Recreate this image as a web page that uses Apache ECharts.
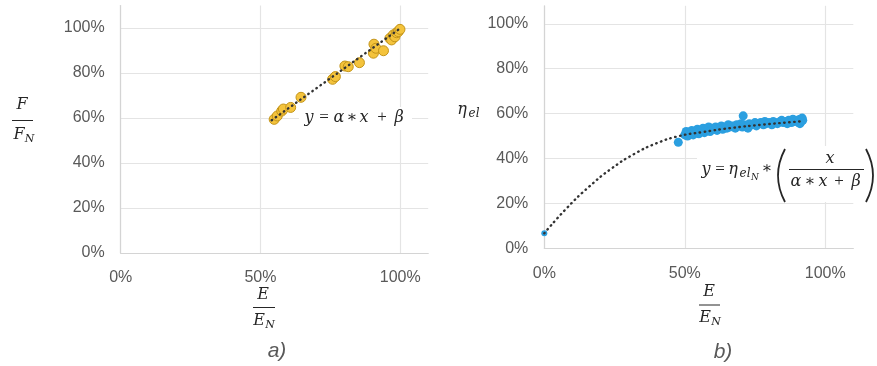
<!DOCTYPE html>
<html>
<head>
<meta charset="utf-8">
<script src="https://cdn.jsdelivr.net/npm/echarts@6/dist/echarts.min.js"></script>
<style>
  html, body { margin: 0; padding: 0; background: #ffffff; }
  #chart { width: 877px; height: 366px; }
</style>
</head>
<body>
<div id="chart"></div>
<script>
// a) force ratio F/FN against energy ratio E/EN
const forceE = [0.549, 0.560, 0.576, 0.582, 0.608, 0.645, 0.758, 0.768, 0.802, 0.814, 0.854,
                0.904, 0.906, 0.913, 0.940, 0.963, 0.969, 0.975, 0.981, 0.987, 0.993, 0.999];
const forceF = [0.594, 0.609, 0.631, 0.640, 0.647, 0.692, 0.772, 0.784, 0.831, 0.828, 0.846,
                0.888, 0.928, 0.910, 0.899, 0.954, 0.947, 0.969, 0.961, 0.979, 0.984, 0.994];
// linear trend y = α·x + β, end points
const forceTrendE = [0.54, 1.005];
const forceTrendF = [0.59, 1.003];

// b) electrical efficiency η_el against energy ratio E/EN
const effE = [0.000, 0.477, 0.500, 0.505, 0.510, 0.515, 0.520, 0.525, 0.530, 0.535, 0.540, 0.545,
              0.550, 0.555, 0.560, 0.565, 0.570, 0.575, 0.580, 0.585, 0.590, 0.595, 0.600, 0.610,
              0.615, 0.620, 0.630, 0.635, 0.640, 0.650, 0.655, 0.660, 0.670, 0.680, 0.685, 0.690,
              0.700, 0.705, 0.708, 0.710, 0.720, 0.725, 0.730, 0.740, 0.750, 0.755, 0.760, 0.770,
              0.780, 0.785, 0.790, 0.800, 0.810, 0.815, 0.820, 0.830, 0.840, 0.845, 0.850, 0.860,
              0.865, 0.870, 0.880, 0.885, 0.890, 0.900, 0.905, 0.910, 0.910, 0.915, 0.918, 0.920];
const effEta = [0.067, 0.472, 0.505, 0.520, 0.500, 0.515, 0.510, 0.525, 0.505, 0.520, 0.515, 0.530,
                0.510, 0.525, 0.520, 0.535, 0.515, 0.530, 0.525, 0.540, 0.520, 0.535, 0.530, 0.540,
                0.525, 0.535, 0.545, 0.530, 0.540, 0.535, 0.550, 0.540, 0.545, 0.535, 0.550, 0.545,
                0.555, 0.540, 0.590, 0.550, 0.545, 0.535, 0.555, 0.550, 0.560, 0.545, 0.555, 0.560,
                0.550, 0.565, 0.555, 0.560, 0.550, 0.565, 0.560, 0.555, 0.565, 0.570, 0.560, 0.565,
                0.555, 0.570, 0.560, 0.575, 0.565, 0.570, 0.560, 0.575, 0.555, 0.565, 0.580, 0.570];
// efficiency trend curve y = η_elN·x/(α·x+β), sampled
const effTrendE   = [0.000, 0.080, 0.160, 0.240, 0.320, 0.400, 0.480, 0.560, 0.660, 0.780, 0.920];
const effTrendEta = [0.067, 0.179, 0.275, 0.356, 0.420, 0.468, 0.500, 0.517, 0.535, 0.551, 0.566];

const zip = (a, b) => a.map((v, i) => [v, b[i]]);
const pct = v => Math.round(v * 100) + '%';

const SANS = '"Liberation Sans", Arial, sans-serif';
const SERIF = '"DejaVu Serif", serif';
const OPS = '"Liberation Serif", serif';
const LABEL_GREY = '#595959';
const INK = '#262626';

function axisX(gridIndex, max) {
  return {
    type: 'value', gridIndex, min: 0, max, interval: 0.5,
    axisLine: { show: true, lineStyle: { color: '#d4d4d4', width: 1.2 } },
    axisTick: { show: false },
    splitLine: { show: true, showMaxLine: false, lineStyle: { color: '#e4e4e4', width: 1.2 } },
    axisLabel: { showMaxLabel: false, formatter: pct, color: LABEL_GREY, fontFamily: SANS, fontSize: 16, margin: 17 }
  };
}
function axisY(gridIndex, max) {
  return {
    type: 'value', gridIndex, min: 0, max, interval: 0.2,
    axisLine: { show: true, onZero: false, lineStyle: { color: '#d4d4d4', width: 1.2 } },
    axisTick: { show: false },
    splitLine: { show: true, showMaxLine: false, lineStyle: { color: '#e4e4e4', width: 1.2 } },
    axisLabel: { showMaxLabel: false, formatter: pct, color: LABEL_GREY, fontFamily: SANS, fontSize: 16, margin: 16 }
  };
}

// text helper for the math annotations
function t(x, y, s, opt) {
  opt = opt || {};
  return {
    type: 'text', x, y, z: 100, silent: true,
    style: {
      text: s,
      fontFamily: opt.family || SERIF,
      fontSize: opt.size || 16,
      fontStyle: opt.upright ? 'normal' : 'italic',
      fill: opt.color || INK,
      align: opt.align || 'center',
      verticalAlign: 'middle'
    }
  };
}
// upright operator sign
function op(x, y, s) {
  return t(x, y, s, { upright: true, family: OPS, size: 17 });
}
function bar(x1, x2, y) {
  return { type: 'line', z: 100, silent: true, shape: { x1, y1: y, x2, y2: y }, style: { stroke: INK, lineWidth: 1 } };
}
function box(x, y, w, h) {
  return { type: 'rect', z: 90, silent: true, shape: { x, y, width: w, height: h }, style: { fill: '#ffffff' } };
}
// tall bracket drawn as a quadratic curve
function paren(xEnd, xCtrl, yTop, yBot) {
  return {
    type: 'bezierCurve', z: 100, silent: true,
    shape: { x1: xEnd, y1: yTop, x2: xEnd, y2: yBot, cpx1: xCtrl, cpy1: (yTop + yBot) / 2 },
    style: { stroke: INK, lineWidth: 1.8, fill: null }
  };
}

const graphics = [
  // F / F_N
  t(22, 105, 'F'), bar(12, 33, 120.5), t(19, 135, 'F'), t(29.5, 139, 'N', { size: 11 }),
  // E / E_N under a)
  t(263, 295, 'E'), bar(253, 275, 307.5), t(259, 321, 'E'), t(270, 325, 'N', { size: 11 }),
  // η_el
  t(462, 110, 'η'), t(474, 114, 'el', { size: 12 }),
  // E / E_N under b)
  t(709, 292, 'E'), bar(699, 720, 305), t(705, 318, 'E'), t(716, 322, 'N', { size: 11 }),
  // panel letters
  t(277, 351, 'a)', { family: SANS, size: 21, color: LABEL_GREY }),
  t(723, 352, 'b)', { family: SANS, size: 21, color: LABEL_GREY }),

  // y = α * x + β
  box(299, 107, 113, 23),
  t(309, 118, 'y'), op(324, 118, '='), t(339, 118, 'α'),
  t(352, 118, '∗', { upright: true }), t(364, 118, 'x'), op(382, 118, '+'), t(399, 118, 'β'),

  // y = η_elN * ( x / (α * x + β) )
  box(697, 146, 180, 56),
  t(706, 170, 'y'), op(720, 170, '='), t(733, 170, 'η'),
  t(745, 174, 'el', { size: 12 }), t(755, 178, 'N', { size: 9 }),
  t(767, 169, '∗', { upright: true }),
  paren(785, 771, 149, 202),
  paren(866, 880, 149, 202),
  t(830, 159, 'x'), bar(789, 864, 169.5),
  t(796, 182, 'α'), t(810, 182, '∗', { upright: true }), t(823, 182, 'x'),
  op(839, 182, '+'), t(856, 182, 'β')
];

const dotted = { color: '#333333', width: 2.4, type: [0.5, 4.5], cap: 'round' };

const option = {
  animation: false,
  backgroundColor: '#ffffff',
  grid: [
    { left: 120.7, top: 5.5, width: 307.5, height: 247.5 },
    { left: 544.3, top: 5.8, width: 309, height: 242.5 }
  ],
  xAxis: [axisX(0, 1.1), axisX(1, 1.1)],
  yAxis: [axisY(0, 1.1), axisY(1, 1.08)],
  graphic: graphics,
  series: [
    {
      type: 'scatter', xAxisIndex: 0, yAxisIndex: 0, z: 2,
      data: zip(forceE, forceF), symbolSize: 10,
      itemStyle: { color: '#f4c33c', borderColor: '#c4951a', borderWidth: 1, opacity: 1 }
    },
    {
      type: 'line', xAxisIndex: 0, yAxisIndex: 0, z: 3,
      data: zip(forceTrendE, forceTrendF), showSymbol: false, symbol: 'none',
      lineStyle: dotted, silent: true
    },
    {
      type: 'scatter', xAxisIndex: 1, yAxisIndex: 1, z: 2,
      data: zip(effE, effEta),
      symbolSize: v => (v[0] === 0 ? 6 : 9),
      itemStyle: { color: '#2b9fe0', opacity: 1 }
    },
    {
      type: 'line', xAxisIndex: 1, yAxisIndex: 1, z: 3,
      data: zip(effTrendE, effTrendEta), showSymbol: false, symbol: 'none', smooth: true,
      lineStyle: dotted, silent: true
    }
  ]
};

const chart = echarts.init(document.getElementById('chart'), null, { renderer: 'canvas' });
chart.setOption(option);
</script>
</body>
</html>
